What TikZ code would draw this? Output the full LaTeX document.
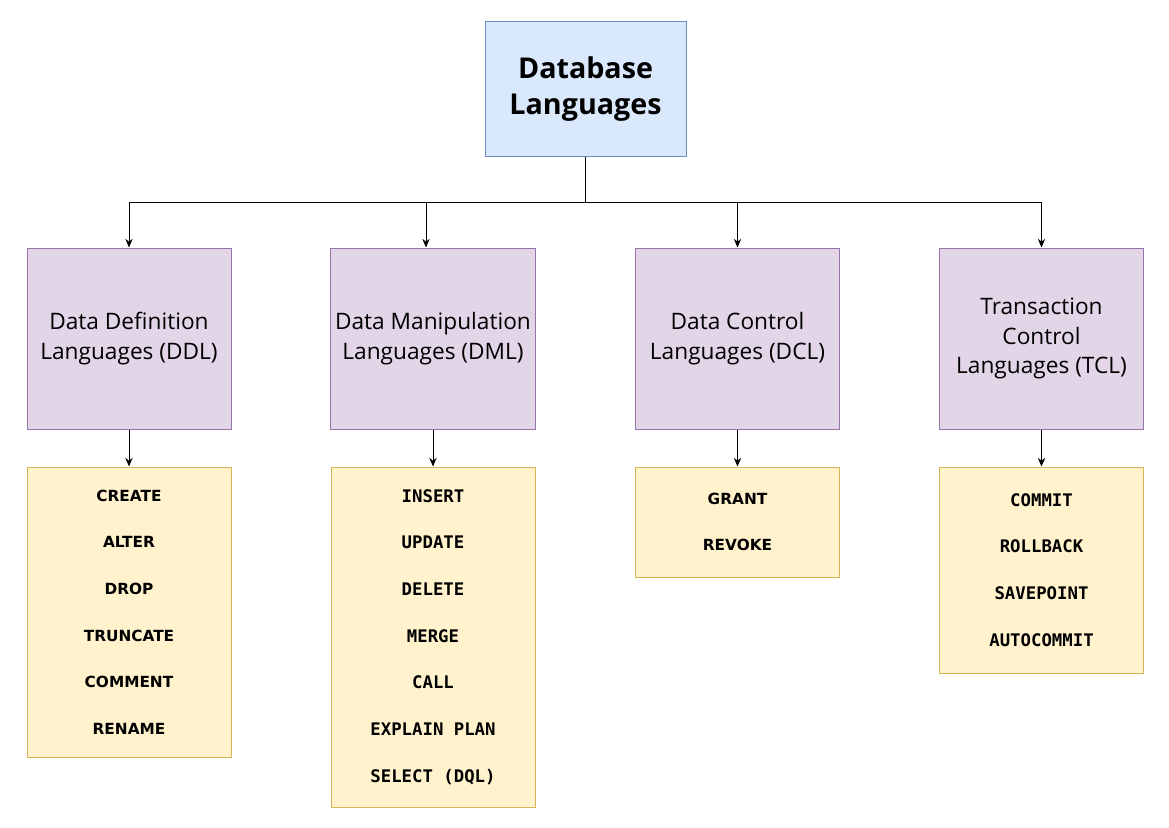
\documentclass[tikz,border=0pt]{standalone}
\usepackage{fontspec}
\setmainfont{Open Sans}
\newfontfamily\cmdsans{DejaVu Sans}
\newfontfamily\cmdmono{DejaVu Sans Mono}
\usepackage{tikz}
\usetikzlibrary{arrows.meta,positioning}
\definecolor{dbfill}{HTML}{DAE8FC}
\definecolor{dbline}{HTML}{6C8EBF}
\definecolor{langfill}{HTML}{E1D5E7}
\definecolor{langline}{HTML}{9673A6}
\definecolor{cmdfill}{HTML}{FFF2CC}
\definecolor{cmdline}{HTML}{D6B656}

\begin{document}
\begin{tikzpicture}[
x=0.75pt, y=-0.75pt,
topbox/.style={draw=dbline, fill=dbfill, line width=0.75pt, minimum width=150.75pt, minimum height=101.25pt, align=center, font=\fontsize{21.5}{27}\selectfont\bfseries},
langbox/.style={draw=langline, fill=langfill, line width=0.75pt, minimum width=153pt, minimum height=135.75pt, align=center, font=\fontsize{17}{22}\selectfont},
cmdbox/.style={draw=cmdline, fill=cmdfill, line width=0.75pt, minimum width=153pt, align=center, below=27.75pt of #1},
sanslist/.style={font=\cmdsans\bfseries\fontsize{11.5}{35}\selectfont},
monolist/.style={font=\cmdmono\bfseries\fontsize{13}{35}\selectfont},
link/.style={line width=0.75pt, -{Stealth[length=6.5pt,width=5.5pt]}}
]
    % page frame
    \useasboundingbox (0,0) rectangle (1169,827);

    % root
    \node[topbox] (db) at (585.5,89.5) {Database\\Languages};

    % language groups
    \node[langbox] (ddl) at (129,338.5) {Data Definition\\Languages (DDL)};
    \node[langbox] (dml) at (433,338.5) {Data Manipulation\\Languages (DML)};
    \node[langbox] (dcl) at (737.5,338.5) {Data Control\\Languages (DCL)};
    \node[langbox] (tcl) at (1041.5,338.5) {Transaction\\Control\\Languages (TCL)};

    % command lists
    \node[cmdbox=ddl, sanslist, minimum height=217.5pt] (ddlcmd)
        {CREATE\\ALTER\\DROP\\TRUNCATE\\COMMENT\\RENAME};
    \node[cmdbox=dml, monolist, minimum height=255pt] (dmlcmd)
        {INSERT\\UPDATE\\DELETE\\MERGE\\CALL\\EXPLAIN PLAN\\SELECT (DQL)};
    \node[cmdbox=dcl, sanslist, minimum height=82.5pt] (dclcmd)
        {GRANT\\REVOKE};
    \node[cmdbox=tcl, monolist, minimum height=154.5pt] (tclcmd)
        {COMMIT\\ROLLBACK\\SAVEPOINT\\AUTOCOMMIT};

    % tree lines
    \coordinate (bus) at (585.5,203);
    \draw[line width=0.75pt] (db.south) -- (bus);
    \draw[link] (bus) -| (ddl.north);
    \draw[link] (bus) -| ([xshift=-5.25pt]dml.north);
    \draw[link] (bus) -| (dcl.north);
    \draw[link] (bus) -| (tcl.north);

    \draw[link] (ddl) -- (ddlcmd);
    \draw[link] (dml) -- (dmlcmd);
    \draw[link] (dcl) -- (dclcmd);
    \draw[link] (tcl) -- (tclcmd);

\end{tikzpicture}
\end{document}
